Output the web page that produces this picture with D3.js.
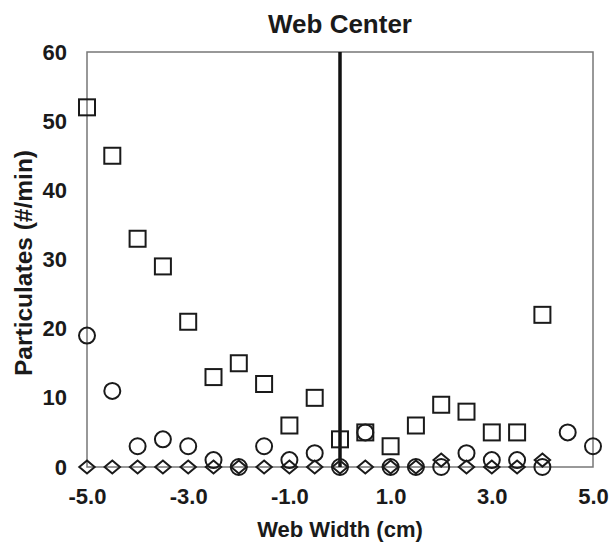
<!DOCTYPE html>
<html>
<head>
<meta charset="utf-8">
<script src="https://cdn.jsdelivr.net/npm/d3@7"></script>
<style>
  body { margin: 0; background: #fff; }
  text { font-family: "Liberation Sans", Arial, sans-serif; font-weight: bold; fill: #1a1a1a; }
</style>
</head>
<body>
<svg id="chart" width="610" height="544"></svg>
<script>
// positions across the web (cm)
var positions = [-5, -4.5, -4, -3.5, -3, -2.5, -2, -1.5, -1, -0.5, 0, 0.5, 1, 1.5, 2, 2.5, 3, 3.5, 4, 4.5, 5];
// square series (no readings at 4.5 and 5.0)
var squareVals = [52, 45, 33, 29, 21, 13, 15, 12, 6, 10, 4, 5, 3, 6, 9, 8, 5, 5, 22, null, null];
// circle series
var circleVals = [19, 11, 3, 4, 3, 1, 0, 3, 1, 2, 0, 5, 0, 0, 0, 2, 1, 1, 0, 5, 3];
// diamond series
var diamondVals = [0, 0, 0, 0, 0, 0, 0, 0, 0, 0, 0, 0, 0, 0, 1, 0, 0, 0, 1, null, null];
var xTicks = [-5, -3, -1, 1, 3, 5];
var yTicks = [0, 10, 20, 30, 40, 50, 60];

var margin = { top: 52, right: 17, bottom: 77, left: 87 },
	width = 610 - margin.left - margin.right,
	height = 544 - margin.top - margin.bottom;

var svg = d3.select('#chart');
var g = svg.append('g')
	.attr('transform', 'translate(' + margin.left + ',' + margin.top + ')');

var x = d3.scaleLinear().domain([-5, 5]).range([0, width]);
var y = d3.scaleLinear().domain([0, 60]).range([height, 0]);

// plot frame
g.append('rect')
	.attr('width', width).attr('height', height)
	.attr('fill', 'none').attr('stroke', '#777').attr('stroke-width', 1.5);

// axes (labels only, no tick marks)
var xAxis = g.append('g')
	.attr('transform', 'translate(0,' + height + ')')
	.call(d3.axisBottom(x).tickValues(xTicks)
		.tickFormat(function (d) { return d.toFixed(1); })
		.tickSize(0).tickPadding(21));
var yAxis = g.append('g')
	.call(d3.axisLeft(y).tickValues(yTicks).tickSize(0).tickPadding(20));
[xAxis, yAxis].forEach(function (a) {
	a.select('.domain').remove();
	a.selectAll('text').attr('font-size', 22).attr('font-family', null).attr('fill', '#1a1a1a');
});

// web center line
g.append('line')
	.attr('x1', x(0)).attr('x2', x(0))
	.attr('y1', 0).attr('y2', height)
	.attr('stroke', '#111').attr('stroke-width', 3.5);

function pts(vals) {
	return positions.map(function (p, i) { return { x: p, v: vals[i] }; })
		.filter(function (d) { return d.v != null; });
}

var markStroke = '#1a1a1a';

g.append('g').selectAll('path')
	.data(pts(diamondVals)).enter()
	.append('path')
	.attr('d', 'M0,-6.5L7.7,0L0,6.5L-7.7,0Z')
	.attr('transform', function (d) { return 'translate(' + x(d.x) + ',' + y(d.v) + ')'; })
	.attr('fill', 'none').attr('stroke', markStroke).attr('stroke-width', 2);

g.append('g').selectAll('circle')
	.data(pts(circleVals)).enter()
	.append('circle')
	.attr('cx', function (d) { return x(d.x); })
	.attr('cy', function (d) { return y(d.v); })
	.attr('r', 8)
	.attr('fill', 'none').attr('stroke', markStroke).attr('stroke-width', 2);

g.append('g').selectAll('rect')
	.data(pts(squareVals)).enter()
	.append('rect')
	.attr('x', function (d) { return x(d.x) - 8; })
	.attr('y', function (d) { return y(d.v) - 8; })
	.attr('width', 16).attr('height', 16)
	.attr('fill', 'none').attr('stroke', markStroke).attr('stroke-width', 2);

// titles
svg.append('text')
	.attr('x', margin.left + x(0)).attr('y', 33)
	.attr('text-anchor', 'middle').attr('font-size', 26)
	.text('Web Center');
svg.append('text')
	.attr('x', margin.left + x(0)).attr('y', 537)
	.attr('text-anchor', 'middle').attr('font-size', 22)
	.text('Web Width (cm)');
svg.append('text')
	.attr('transform', 'translate(32,' + 263 + ') rotate(-90)')
	.attr('text-anchor', 'middle').attr('font-size', 24.5)
	.text('Particulates (#/min)');
</script>
</body>
</html>
